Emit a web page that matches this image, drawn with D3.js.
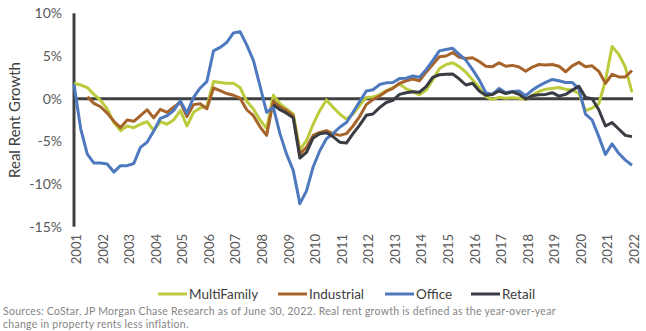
<!DOCTYPE html>
<html><head><meta charset="utf-8">
<script src="https://cdn.jsdelivr.net/npm/d3@7"></script>
<style>
body{margin:0;background:#fff;}
svg text{font-family:Lato,"Open Sans",sans-serif;}
</style></head>
<body><svg id="c" width="646" height="331"></svg>
<script>
const startYear = 2001;
const yearLabels = ["2001","2002","2003","2004","2005","2006","2007","2008","2009","2010","2011","2012","2013","2014","2015","2016","2017","2018","2019","2020","2021","2022"];
const yTicks = [10,5,0,-5,-10,-15];
const seriesNames = ["MultiFamily","Industrial","Office","Retail"];
// quarterly real rent growth (%), 2001Q1 .. 2022Q1
const multiFamily = [1.8,1.6,1.3,0.5,-0.2,-1.2,-2.8,-3.75,-3.2,-3.4,-3.0,-2.7,-3.7,-2.7,-3.0,-2.5,-1.4,-3.2,-1.6,-1.1,-0.9,2.0,1.9,1.8,1.8,1.3,-0.3,-1.2,-2.5,-3.5,0.4,-0.6,-1.2,-1.8,-6.0,-4.9,-3.0,-1.4,-0.15,-1.0,-1.8,-2.4,-1.8,-0.8,0.15,0.2,0.45,0.95,1.3,1.7,1.15,0.85,0.45,1.0,2.2,3.5,4.0,4.2,3.75,3.1,2.2,1.3,0.25,-0.1,0.15,0.05,0.1,0.05,-0.1,0.4,0.85,1.1,1.2,1.3,1.1,1.0,0.6,-1.4,-1.1,-0.6,2.1,6.1,5.2,3.7,0.75];
const industrial = [null,null,0.2,-0.55,-0.95,-1.7,-2.65,-3.4,-2.5,-2.65,-2.0,-1.3,-2.25,-1.25,-1.6,-1.0,-0.4,-2.1,-0.7,-0.6,-1.2,1.25,0.95,0.6,0.4,0.05,-1.3,-2.0,-3.3,-4.3,-0.3,-0.95,-1.4,-2.0,-6.5,-5.7,-4.3,-3.95,-3.75,-4.1,-4.3,-4.1,-3.2,-2.1,-0.7,-0.1,0.3,0.85,1.2,1.8,2.1,2.3,2.1,3.1,4.0,4.9,5.0,5.4,4.85,4.7,4.8,4.35,3.8,3.75,4.2,3.8,3.9,3.7,3.2,3.7,4.0,3.95,4.0,3.8,3.15,3.85,4.25,3.75,3.85,3.2,1.8,2.85,2.55,2.55,3.3];
const office = [1.7,-3.5,-6.5,-7.55,-7.55,-7.65,-8.6,-7.85,-7.85,-7.6,-5.7,-5.1,-3.8,-2.3,-2.0,-1.4,-0.25,-1.7,0.15,1.25,2.0,5.6,6.0,6.6,7.7,7.85,6.3,4.5,1.5,-1.6,-1.0,-4.1,-6.5,-8.4,-12.3,-10.8,-8.0,-6.1,-4.7,-4.1,-3.35,-2.8,-1.6,-0.35,0.9,1.05,1.65,1.85,1.9,2.35,2.4,2.65,2.5,3.4,4.45,5.6,5.75,5.9,5.2,4.5,3.4,2.2,0.7,0.5,1.2,0.7,0.85,0.9,0.35,1.0,1.5,1.9,2.25,2.1,1.9,1.9,1.15,-1.8,-2.5,-4.45,-6.55,-5.3,-6.4,-7.2,-7.8];
const retail = [null,null,null,null,null,null,null,null,null,null,null,null,null,null,null,null,null,null,null,null,null,null,null,null,null,null,null,null,null,null,-0.7,-1.3,-1.7,-2.25,-6.95,-6.3,-4.6,-4.1,-4.0,-4.45,-5.1,-5.2,-4.1,-3.1,-1.95,-1.8,-1.05,-0.45,-0.2,0.5,0.7,0.8,0.75,1.4,2.5,2.8,2.85,2.9,2.3,1.6,1.8,0.9,0.4,0.5,0.9,0.6,0.8,0.5,-0.05,0.35,0.45,0.5,0.7,0.3,0.5,1.0,1.45,0.15,0.0,-1.3,-3.2,-2.8,-3.55,-4.3,-4.45];
const colors = ["#bccb3c","#a6642a","#4f79bf","#393c42"];

const svg = d3.select("#c");
const x = d3.scaleLinear().domain([0, multiFamily.length-1]).range([74, 632]);
const y = d3.scaleLinear().domain([-15, 10]).range([226.7, 13.3]);

// y axis labels
const yAxis = d3.axisLeft(y).tickValues(yTicks).tickFormat(d => d + "%").tickSize(0).tickPadding(0);
const gy = svg.append("g").attr("transform","translate(62,0)").call(yAxis);
gy.select(".domain").remove();
gy.selectAll("text").attr("fill","#595959").style("font-size","14px").style("font-family","Lato");

// x axis labels (rotated)
const xAxis = d3.axisBottom(x).tickValues(yearLabels.map(s => (+s - startYear)*4)).tickFormat((d,i) => yearLabels[i]).tickSize(0);
const gx = svg.append("g").attr("transform","translate(0,234)").call(xAxis);
gx.select(".domain").remove();
gx.selectAll("text").attr("fill","#595959").style("font-size","13px").style("font-family","Lato")
  .attr("text-anchor","end").attr("x",0).attr("y",0).attr("dy","0.35em")
  .attr("transform","translate(2,0) rotate(-90)");

// axis lines
svg.append("line").attr("x1",x(0)).attr("x2",x(0)).attr("y1",y(10)).attr("y2",y(-15))
  .attr("stroke","#404040").attr("stroke-width",3);
svg.append("line").attr("x1",x(0)).attr("x2",x(84)+1).attr("y1",y(0)).attr("y2",y(0))
  .attr("stroke","#404040").attr("stroke-width",3);

// y title
svg.append("text").attr("transform","translate(20,120) rotate(-90)").attr("text-anchor","middle")
  .style("font-size","15px").attr("fill","#404040").text("Real Rent Growth");

const line = d3.line().defined(d => d != null).x((d,i) => x(i)).y(d => y(d));
const allSeries = [multiFamily, industrial, office, retail];
allSeries.forEach((s,k) => {
  svg.append("path").datum(s).attr("fill","none").attr("stroke",colors[k])
    .attr("stroke-width",3).attr("stroke-linejoin","round").attr("d",line);
});

// legend
const legendX = [158, 278, 385, 471];
const lg = svg.append("g");
seriesNames.forEach((n,k) => {
  lg.append("line").attr("x1",legendX[k]).attr("x2",legendX[k]+29).attr("y1",294).attr("y2",294)
    .attr("stroke",colors[k]).attr("stroke-width",3);
  lg.append("text").attr("x",legendX[k]+31).attr("y",294).attr("dy","0.35em")
    .style("font-size","13.5px").attr("fill","#404040").text(n);
});

// source
const src1 = svg.append("text").attr("x",3).attr("y",315).style("font-size","10.5px").style("letter-spacing","0.27px").attr("fill","#858585")
  .text("Sources: CoStar, JP Morgan Chase Research as of June 30, 2022. Real rent growth is defined as the year-over-year");
const src2 = svg.append("text").attr("x",3).attr("y",328).style("font-size","10.5px").style("letter-spacing","0.27px").attr("fill","#858585")
  .text("change in property rents less inflation.");
</script></body></html>
